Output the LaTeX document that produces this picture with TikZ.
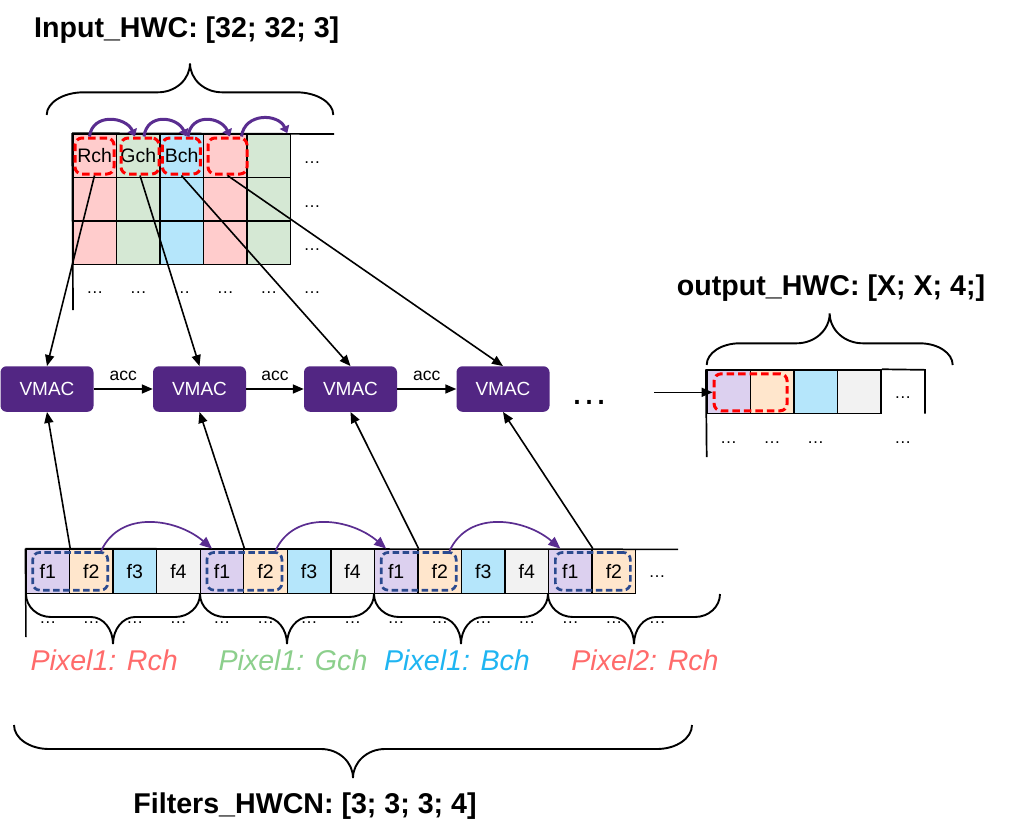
\documentclass[tikz,border=0pt]{standalone}
\usepackage{fontspec}
\setmainfont{Liberation Sans}
\usetikzlibrary{arrows.meta,calc}

\definecolor{pinkc}{HTML}{FFCCCC}
\definecolor{greenc}{HTML}{D5E8D4}
\definecolor{bluec}{HTML}{B5E6FB}
\definecolor{lavc}{HTML}{DCD0EF}
\definecolor{orangec}{HTML}{FFE6CC}
\definecolor{greyc}{HTML}{F2F2F2}
\definecolor{vmacc}{HTML}{522683}
\definecolor{arcc}{HTML}{5A2D90}
\definecolor{blued}{HTML}{2B4A8F}
\definecolor{pixred}{HTML}{FF6B6B}
\definecolor{pixgreen}{HTML}{8CCF8C}
\definecolor{pixblue}{HTML}{1FB5F2}

\newcommand\myfs[1]{\fontsize{#1}{#1}\selectfont}
% brace: x1, x2, yend, yhoriz, ytip, curl width, tip width
\newcommand\mybrace[7]{%
 \pgfmathsetmacro\bxm{(#1+#2)/2}%
 \pgfmathsetmacro\bca{#3+0.552*(#4-#3)}%
 \pgfmathsetmacro\bct{#5+0.552*(#4-#5)}%
 \draw[bracel] (#1,#3) .. controls (#1,\bca) and ({#1+0.448*#6},#4) .. ({#1+#6},#4)
   -- ({\bxm-#7},#4) .. controls ({\bxm-0.448*#7},#4) and (\bxm,\bct) .. (\bxm,#5)
   .. controls (\bxm,\bct) and ({\bxm+0.448*#7},#4) .. ({\bxm+#7},#4)
   -- ({#2-#6},#4) .. controls ({#2-0.448*#6},#4) and (#2,\bca) .. (#2,#3);
}

\begin{document}
\begin{tikzpicture}[x=1pt,y=-1pt,
 gcell/.style={draw=black,line width=1.6pt,minimum width=43.5pt,minimum height=43.5pt,inner sep=0pt,font=\myfs{19.5}},
 fcell/.style={draw=black,line width=1.4pt,minimum width=43.55pt,minimum height=44pt,inner sep=0pt,font=\myfs{19.5}},
 vmacbox/.style={fill=vmacc,rounded corners=6pt,minimum width=93pt,minimum height=45.5pt,inner sep=0pt,text=white,font=\myfs{19}},
 reddash/.style={draw=red,line width=3pt,dash pattern=on 7.5pt off 4pt,rounded corners=7pt,inner sep=0pt},
 bluedash/.style={draw=blued,line width=2.7pt,dash pattern=on 6.5pt off 3.5pt,rounded corners=7pt,inner sep=0pt,minimum width=75pt,minimum height=37.7pt},
 gline/.style={draw=black,line width=1.7pt},
 conn/.style={draw=black,line width=1.6pt,-{Triangle[length=11pt,width=9pt]}},
 tarc/.style={draw=arcc,line width=3pt,-{Triangle[length=7pt,width=10pt]}},
 farc/.style={draw=arcc,line width=1.7pt,-{Triangle[length=12pt,width=10pt]}},
 bracel/.style={draw=black,line width=1.9pt},
 dotsl/.style={font=\myfs{17},anchor=base,inner sep=0pt},
 titlel/.style={font=\myfs{28.6}\bfseries,anchor=base,inner sep=0pt},
 pixl/.style={font=\myfs{28.6}\itshape,anchor=base,inner sep=0pt},
 accl/.style={font=\myfs{17.5},inner sep=0pt}
]
\fill[white] (0,0) rectangle (1010,839);
\useasboundingbox (0,0) rectangle (1010,839);

% ---------------- Input grid ----------------
\node[titlel] (tin) at (186.7,37.7) {Input\_HWC: [32; 32; 3]};
\mybrace{46.7}{333.3}{115}{92.3}{63.3}{37}{32}

\foreach \cc/\col in {1/pinkc,2/greenc,3/bluec,4/pinkc,5/greenc}{
  \foreach \rr in {2,3}{
    \node[gcell,fill=\col] (g\rr\cc) at ({73+43.5*(\cc-0.5)},{134+43.5*(\rr-0.5)}) {};
  }
}
\node[gcell,fill=pinkc] (g11) at (94.75,155.75) {Rch};
\node[gcell,fill=greenc] (g12) at (138.25,155.75) {Gch};
\node[gcell,fill=bluec] (g13) at (181.75,155.75) {Bch};
\node[gcell,fill=pinkc] (g14) at (225.25,155.75) {};
\node[gcell,fill=greenc] (g15) at (268.75,155.75) {};
\coordinate (gtopend) at (334,134);
\coordinate (gleftend) at (73,310);
\draw[gline] (g11.north west) -- (gtopend);
\draw[gline] (g11.north west) -- (gleftend);

\foreach \yy [count=\k] in {163.5,207,250.5}
  \node[dotsl] (gd\k) at (312,\yy) {…};
\foreach \xx [count=\k] in {94.75,138.25,181.75,225.25,268.75,312}
  \node[dotsl] (gb\k) at (\xx,293.5) {…};

\node[reddash,minimum width=39pt,minimum height=36pt] (rb1) at (94.5,156) {};
\node[reddash,minimum width=38pt,minimum height=36pt] (rb2) at (140,156) {};
\node[reddash,minimum width=38pt,minimum height=36pt] (rb3) at (181.4,156) {};
\node[reddash,minimum width=39pt,minimum height=36pt] (rb4) at (227.5,156) {};

\draw[tarc] ([xshift=-5pt]rb1.north) .. controls +(3,-24) and +(-9,-20) .. ([xshift=-5pt]rb2.north);
\draw[tarc] ([xshift=4pt]rb2.north) .. controls +(3,-24) and +(-9,-20) .. ([xshift=5pt]rb3.north);
\draw[tarc] ([xshift=6.6pt]rb3.north) .. controls +(3,-24) and +(-9,-20) .. ([xshift=2.5pt]rb4.north);
\draw[tarc] ([xshift=14pt]rb4.north) .. controls +(3,-24) and +(-9,-20) .. ([xshift=-4pt]g15.north east);

% ---------------- VMAC row ----------------
\node[vmacbox] (v1) at (47,389) {VMAC};
\node[vmacbox] (v2) at (199.5,389) {VMAC};
\node[vmacbox] (v3) at (350.5,389) {VMAC};
\node[vmacbox] (v4) at (503,389) {VMAC};
\draw[conn] (v1.east) -- node[accl,above=8pt] (acc1) {acc} (v2.west);
\draw[conn] (v2.east) -- node[accl,above=8pt] (acc2) {acc} (v3.west);
\draw[conn] (v3.east) -- node[accl,above=8pt] (acc3) {acc} (v4.west);
\node[font=\myfs{38},anchor=base,inner sep=0pt] (vdots) at (589.5,404) {…};

\draw[conn] (rb1.south) -- (v1.north);
\draw[conn] (rb2.south) -- (v2.north);
\draw[conn] (rb3.south) -- (v3.north);
\draw[conn] (rb4.south) -- (v4.north);

% ---------------- Filters row ----------------
\foreach \i/\lbl/\col in {0/f1/lavc,1/f2/orangec,2/f3/bluec,3/f4/greyc,4/f1/lavc,5/f2/orangec,6/f3/bluec,7/f4/greyc,8/f1/lavc,9/f2/orangec,10/f3/bluec,11/f4/greyc,12/f1/lavc,13/f2/orangec}
  \node[fcell,fill=\col] (f\i) at ({26+43.55*(\i+0.5)},571.3) {\lbl};
\node[dotsl] (fdots) at (657,577.5) {…};
\coordinate (ftopend) at (678,549.3);
\coordinate (fleftend) at (26,637);
\draw[gline,line width=1.5pt] (f0.north west) -- (ftopend);
\draw[gline,line width=1.5pt] (f0.north west) -- (fleftend);

\foreach \a in {0,4,8,12}
  \node[bluedash] (bb\a) at (f\a.east) {};

\draw[farc] ([xshift=-8pt]bb0.north east) .. controls +(19,-42) and +(-35,-30) .. ([xshift=-10pt]f4.north);
\draw[farc] ([xshift=-8pt]bb4.north east) .. controls +(19,-42) and +(-35,-30) .. ([xshift=-10pt]f8.north);
\draw[farc] ([xshift=-8pt]bb8.north east) .. controls +(19,-42) and +(-35,-30) .. ([xshift=-10pt]f12.north);

\draw[conn] (f0.north east) -- (v1.south);
\draw[conn] (f4.north east) -- (v2.south);
\draw[conn] (f8.north east) -- (v3.south);
\draw[conn] (f12.north east) -- (v4.south);

\mybrace{26}{200}{594}{617}{644}{25}{22}
\mybrace{200}{374}{594}{617}{644}{25}{22}
\mybrace{374}{548}{594}{617}{644}{25}{22}
\mybrace{548}{720}{594}{617}{644}{25}{22}

\foreach \i in {0,...,14}
  \node[dotsl] (fd\i) at ({26+43.55*(\i+0.5)},623) {…};

\node[pixl,text=pixred] (p1) at (104.2,670) {Pixel1: Rch};
\node[pixl,text=pixgreen] (p2) at (293,670) {Pixel1: Gch};
\node[pixl,text=pixblue] (p3) at (457,670) {Pixel1: Bch};
\node[pixl,text=pixred] (p4) at (645,670) {Pixel2: Rch};

\mybrace{14}{692}{725}{749}{778}{35}{32}
\node[titlel] (tfil) at (305,813.3) {Filters\_HWCN: [3; 3; 3; 4]};

% ---------------- Output ----------------
\node[titlel] (tout) at (831,295) {output\_HWC: [X; X; 4;]};
\mybrace{706.7}{952.7}{365}{343.3}{313.3}{33}{33}
\foreach \i/\col in {1/lavc,2/orangec,3/bluec,4/greyc}
  \node[gcell,fill=\col,minimum width=43.6pt,minimum height=43.3pt] (o\i) at ({706.7+43.6*(\i-0.5)},391.7) {};
\node[minimum width=43.6pt,minimum height=43.3pt,inner sep=0pt] (o5) at (902.9,391.7) {};
\draw[gline] (o4.north east) -- (o5.north east) -- (o5.south east);
\node[dotsl] (o5d) at (902.9,398.5) {…};
\coordinate (oleftend) at (706.7,457);
\draw[gline] (o1.north west) -- (oleftend);
\foreach \xx [count=\k] in {728.5,772.1,815.7,902.9}
  \node[dotsl] (od\k) at (\xx,443) {…};
\node[reddash,minimum width=73pt,minimum height=37pt] (orb) at (750.6,392.3) {};
\coordinate (oin) at (654,392.3);
\draw[conn] (oin) -- (orb.west);
\end{tikzpicture}
\end{document}
